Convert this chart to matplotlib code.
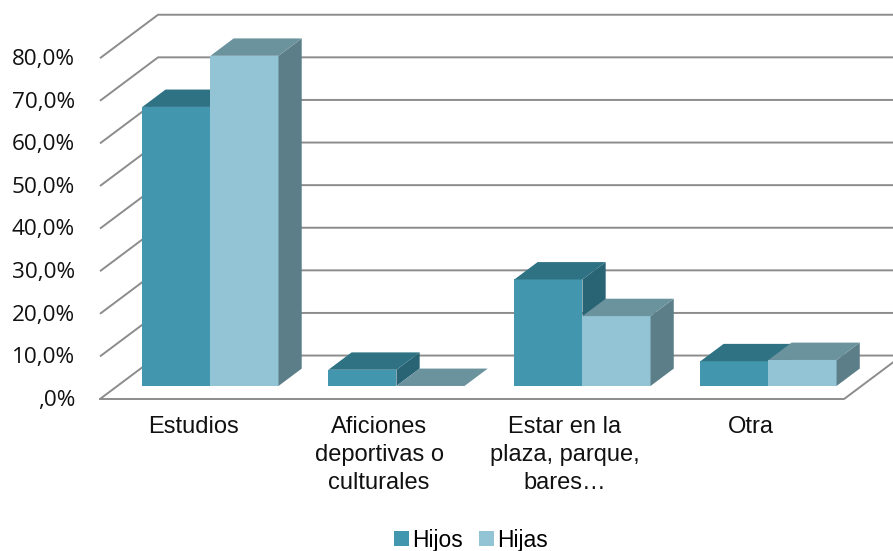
import matplotlib.pyplot as plt
from matplotlib.patches import Polygon, Patch

categorias = ['Estudios', 'Aficiones\ndeportivas o\nculturales',
              'Estar en la\nplaza, parque,\nbares…', 'Otra']
hijos = [65.5, 3.8, 25.0, 5.8]
hijas = [77.5, 0.0, 16.4, 6.1]
series = ['Hijos', 'Hijas']
ticks = [0, 10, 20, 30, 40, 50, 60, 70, 80]
tick_labels = [',0%', '10,0%', '20,0%', '30,0%', '40,0%', '50,0%',
               '60,0%', '70,0%', '80,0%']

# colours: front, top, side
col_hijos = ('#4297ae', '#2f7284', '#296474')
col_hijas = ('#93c4d5', '#6b939e', '#5c7e88')

# oblique offset of the back wall (x in categories, y in %)
DX, DY = 0.312, 10.2
ANCHO = 0.366        # width of each bar
D0, D1 = 0.3, 0.7    # bar depth, as a fraction of the floor depth

fig = plt.figure(figsize=(8.93, 5.51), dpi=100)
ax = fig.add_axes([0, 0, 1, 1])
ax.set_xlim(-1.0376, 3.763)
ax.set_ylim(-35.68, 93.66)
ax.axis('off')

gris = '#8c8c8c'
x_fin = 3.5 + DX
for v in ticks:
    ax.plot([-0.5, -0.5 + DX, x_fin], [v, v + DY, v + DY],
            color=gris, lw=1.4, zorder=1, solid_capstyle='butt')
# floor front and right edges
ax.plot([-0.5, 3.5, 3.5 + DX], [0, 0, DY], color=gris, lw=1.4, zorder=1)

for v, t in zip(ticks, tick_labels):
    ax.text(-0.634, v - 0.3, t, ha='right', va='center',
            fontsize=16.2, family='Open Sans', color='#111111')


def barra(x0, valor, cols):
    x1 = x0 + ANCHO
    ax0, ay0 = D0 * DX, D0 * DY
    bx, by = (D1 - D0) * DX, (D1 - D0) * DY
    fx0, fx1 = x0 + ax0, x1 + ax0
    frente = [(fx0, ay0), (fx1, ay0), (fx1, ay0 + valor), (fx0, ay0 + valor)]
    techo = [(fx0, ay0 + valor), (fx1, ay0 + valor),
             (fx1 + bx, ay0 + valor + by), (fx0 + bx, ay0 + valor + by)]
    lado = [(fx1, ay0), (fx1 + bx, ay0 + by),
            (fx1 + bx, ay0 + by + valor), (fx1, ay0 + valor)]
    if valor > 0:
        ax.add_patch(Polygon(frente, closed=True, fc=cols[0], ec='none', zorder=3))
        ax.add_patch(Polygon(lado, closed=True, fc=cols[2], ec='none', zorder=3))
    ax.add_patch(Polygon(techo, closed=True, fc=cols[1], ec='none', zorder=3))


for i in range(len(categorias)):
    barra(i - ANCHO, hijos[i], col_hijos)
    barra(i, hijas[i], col_hijas)

for i, c in enumerate(categorias):
    ax.text(i, -3.9, c, ha='center', va='top', fontsize=17,
            family='Liberation Sans', linespacing=1.37, color='#111111')

handles = [Patch(fc=col_hijos[0], ec='none'), Patch(fc=col_hijas[0], ec='none')]
fig.legend(handles, series, loc='center', bbox_to_anchor=(471 / 893, 1 - 540 / 551),
           ncol=2, frameon=False, handlelength=0.65, handleheight=0.65,
           handletextpad=0.15, columnspacing=0.7,
           prop={'family': 'Liberation Sans', 'size': 16.5})

fig.savefig('out.png', dpi=100)
